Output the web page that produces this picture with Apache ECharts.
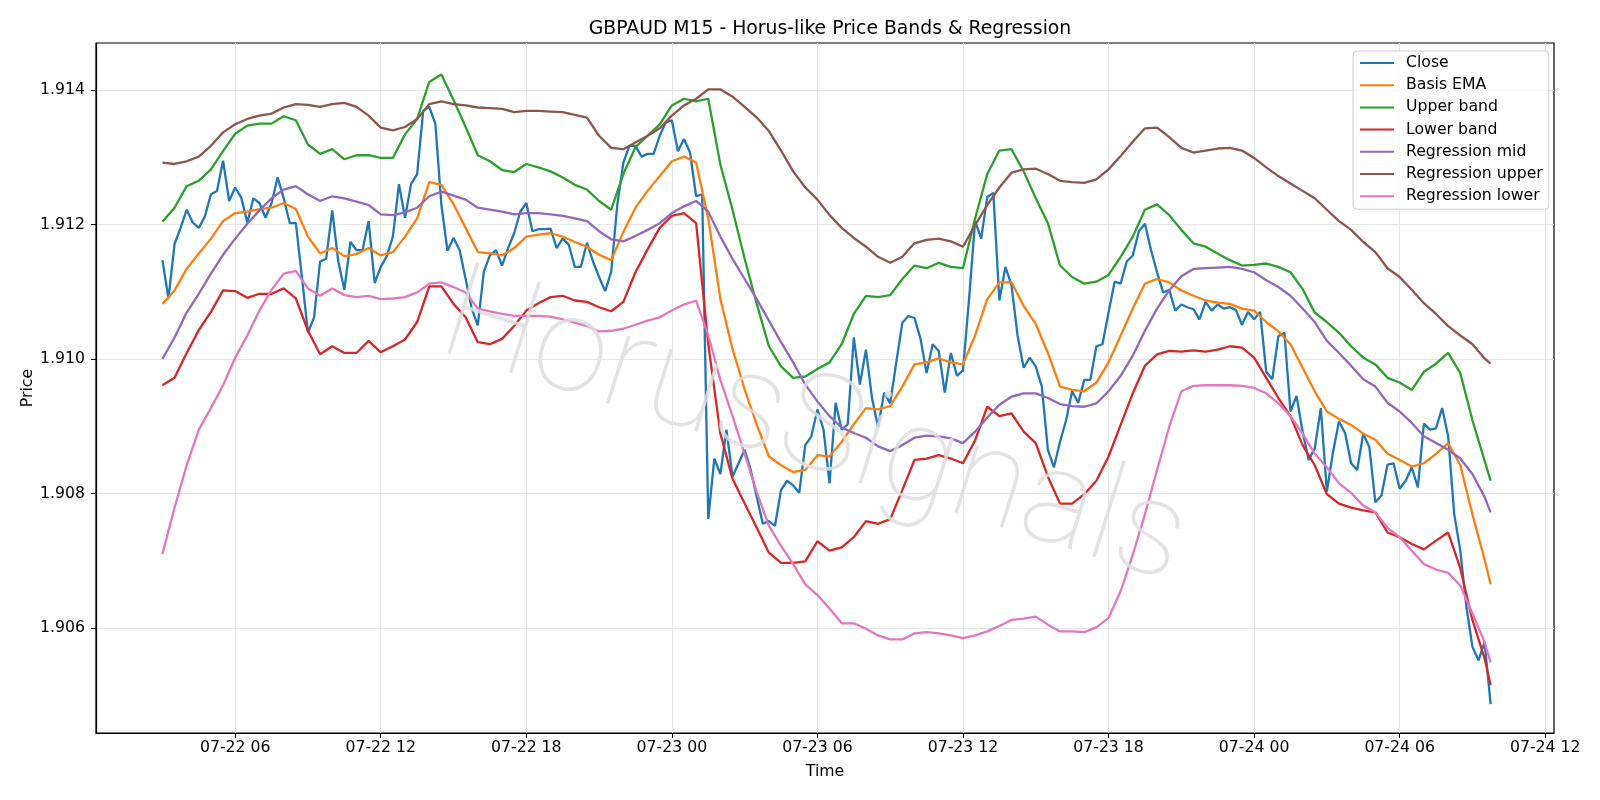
<!DOCTYPE html>
<html>
<head>
<meta charset="utf-8">
<title>GBPAUD M15 - Horus-like Price Bands & Regression</title>
<script src="https://cdn.jsdelivr.net/npm/echarts@6/dist/echarts.min.js"></script>
<style>
    html, body { margin: 0; padding: 0; background: #fff; }
    #chart { width: 1600px; height: 800px; }
</style>
</head>
<body>
<div id="chart"></div>
<script>
// M15 bars, first close at 07-22 03:00
const startTime = Date.UTC(2025, 6, 22, 3, 0);
const step = 15 * 60 * 1000;

const closeVals = [
    1.91147, 1.9109, 1.91171, 1.91195, 1.91222, 1.91203, 1.91195, 1.91212, 1.91245, 1.9125,
    1.91295, 1.91235, 1.91255, 1.9124, 1.91203, 1.91239, 1.91232, 1.9121, 1.91232, 1.9127,
    1.91239, 1.91202, 1.91202, 1.91122, 1.91039, 1.91062, 1.91145, 1.91149, 1.91221, 1.91145,
    1.91103, 1.91174, 1.91162, 1.91162, 1.91205, 1.91113, 1.91137, 1.91153, 1.91182, 1.9126,
    1.9121, 1.9126, 1.91275, 1.91369, 1.91375, 1.9135, 1.91229, 1.91161, 1.9118, 1.91162,
    1.91119, 1.91075, 1.9105, 1.9113, 1.91154, 1.91162, 1.91139, 1.91165, 1.91187, 1.91219,
    1.91232, 1.9119, 1.91193, 1.91193, 1.91194, 1.91165, 1.91179, 1.9117, 1.91137, 1.91137,
    1.91173, 1.91145, 1.91122, 1.91101, 1.9113, 1.91229, 1.91292, 1.91317, 1.91317, 1.91301,
    1.91305, 1.91305, 1.91332, 1.91352, 1.91355, 1.91309, 1.91327, 1.91307, 1.91242, 1.91245,
    1.90762, 1.90852, 1.90829, 1.90895, 1.90825, 1.90845, 1.90865, 1.90835, 1.90795, 1.90755,
    1.90759, 1.90752, 1.90805, 1.90819, 1.90812, 1.90801, 1.90872, 1.90885, 1.90925, 1.90895,
    1.90815, 1.90935, 1.90895, 1.90903, 1.91032, 1.90962, 1.91014, 1.90942, 1.90899, 1.9095,
    1.90934, 1.90995, 1.91054, 1.91064, 1.91061, 1.9103, 1.90979, 1.91022, 1.91012, 1.9095,
    1.91009, 1.90975, 1.90983, 1.91089, 1.91205, 1.91179, 1.91241, 1.91247, 1.91087, 1.91137,
    1.9111, 1.91035, 1.90987, 1.91002, 1.90989, 1.90959, 1.90865, 1.90839, 1.90877, 1.90909,
    1.90952, 1.90935, 1.90969, 1.90969, 1.91019, 1.91022, 1.91069, 1.91115, 1.91112, 1.91145,
    1.91154, 1.9119, 1.91201, 1.91162, 1.91129, 1.91099, 1.91103, 1.91072, 1.91081, 1.91077,
    1.91074, 1.91059, 1.91085, 1.91072, 1.91081, 1.91075, 1.91077, 1.91073, 1.91051, 1.9107,
    1.91059, 1.9107, 1.90981, 1.9097, 1.91034, 1.91039, 1.90922, 1.90945, 1.90892, 1.9085,
    1.90867, 1.90927, 1.90803, 1.90861, 1.90907, 1.9089, 1.90845, 1.90835, 1.90889, 1.90869,
    1.90787, 1.90797, 1.90843, 1.90845, 1.90807, 1.90819, 1.90839, 1.90809, 1.90904, 1.90895,
    1.90897, 1.90927, 1.90885, 1.90769, 1.90715, 1.90632, 1.90572, 1.90552, 1.90579, 1.90487
];

// band / regression lines read every 2nd bar (0, 2, ... 218) plus the last bar 219
const basisEma = [
    1.91082, 1.91102, 1.91134, 1.91157, 1.91179, 1.91205, 1.91217, 1.91219, 1.91223, 1.91225,
    1.91232, 1.91223, 1.91182, 1.91157, 1.91165, 1.91153, 1.91156, 1.91165, 1.91154, 1.91159,
    1.91182, 1.91209, 1.91263, 1.91259, 1.9123, 1.91195, 1.91159, 1.91157, 1.91154, 1.91165,
    1.91182, 1.91185, 1.91187, 1.91182, 1.91174, 1.91167, 1.91155, 1.91147, 1.91189, 1.91225,
    1.9125, 1.91272, 1.91294, 1.91301, 1.91292, 1.91209, 1.91089, 1.91015, 1.90955, 1.90902,
    1.90855, 1.90842, 1.90832, 1.90835, 1.90857, 1.90855, 1.90877, 1.90903, 1.90927, 1.90925,
    1.9093, 1.90959, 1.90992, 1.90995, 1.91001, 1.90995, 1.90992, 1.91035, 1.91089, 1.91114,
    1.91114, 1.91079, 1.91052, 1.91009, 1.90959, 1.90954, 1.90952, 1.90965, 1.90995, 1.91035,
    1.91075, 1.91112, 1.91119, 1.91114, 1.91102, 1.91094, 1.91087, 1.91084, 1.91082, 1.91075,
    1.91072, 1.91055, 1.91041, 1.91022, 1.90987, 1.90952, 1.90922, 1.90911, 1.90902, 1.90889,
    1.9088, 1.90859, 1.9085, 1.9084, 1.90845, 1.90859, 1.90875, 1.90842, 1.90769, 1.90702,
    1.90665
];
const upperBand = [
    1.91204, 1.91225, 1.91257, 1.91265, 1.91282, 1.91309, 1.91335, 1.91347, 1.9135, 1.9135,
    1.91361, 1.91355, 1.91319, 1.91305, 1.91312, 1.91297, 1.91303, 1.91303, 1.91299, 1.91299,
    1.91334, 1.91357, 1.91412, 1.91423, 1.91385, 1.91345, 1.91303, 1.91294, 1.91281, 1.91278,
    1.9129, 1.91285, 1.91279, 1.9127, 1.91259, 1.91252, 1.91235, 1.91222, 1.91275, 1.91315,
    1.91332, 1.91349, 1.91377, 1.91387, 1.91383, 1.91387, 1.91289, 1.91222, 1.91149, 1.91082,
    1.91019, 1.90989, 1.90972, 1.90974, 1.90985, 1.90995, 1.91022, 1.91067, 1.91094, 1.91092,
    1.91095, 1.91119, 1.91139, 1.91135, 1.91143, 1.91137, 1.91135, 1.91209, 1.91275, 1.9131,
    1.91312, 1.91279, 1.91239, 1.91202, 1.91139, 1.91122, 1.91112, 1.91115, 1.91125, 1.91152,
    1.91182, 1.91222, 1.9123, 1.91214, 1.91192, 1.91172, 1.91167, 1.91157, 1.91147, 1.91139,
    1.9114, 1.91142, 1.91137, 1.91129, 1.91104, 1.91069, 1.91055, 1.91039, 1.91019, 1.91002,
    1.90992, 1.90972, 1.90965, 1.90954, 1.90981, 1.90993, 1.91009, 1.90979, 1.90909, 1.90849,
    1.90819
];
const lowerBand = [
    1.90961, 1.90972, 1.91009, 1.91043, 1.9107, 1.91102, 1.91101, 1.91091, 1.91097, 1.91097,
    1.91105, 1.9109, 1.91042, 1.91007, 1.91019, 1.91009, 1.91009, 1.91027, 1.9101, 1.91019,
    1.91029, 1.91055, 1.91108, 1.91108, 1.91082, 1.91062, 1.91025, 1.91022, 1.9103, 1.91049,
    1.91072, 1.91083, 1.91092, 1.91094, 1.91087, 1.91085, 1.91077, 1.91071, 1.91085, 1.91129,
    1.91163, 1.91195, 1.91213, 1.91217, 1.91202, 1.91022, 1.90889, 1.90822, 1.90785, 1.90749,
    1.90712, 1.90697, 1.90697, 1.90699, 1.90729, 1.90715, 1.9072, 1.90735, 1.90759, 1.90755,
    1.90762, 1.90805, 1.9085, 1.90852, 1.90857, 1.90852, 1.90845, 1.90879, 1.90929, 1.90915,
    1.90919, 1.90892, 1.90875, 1.90825, 1.90785, 1.90785, 1.90799, 1.90819, 1.90855, 1.90902,
    1.90949, 1.9099, 1.91007, 1.91012, 1.91011, 1.91013, 1.91011, 1.91014, 1.91019, 1.91017,
    1.91002, 1.90972, 1.90942, 1.90915, 1.90872, 1.90842, 1.90799, 1.90785, 1.90779, 1.90775,
    1.90772, 1.90742, 1.90735, 1.90725, 1.90717, 1.9073, 1.90742, 1.90689, 1.90612, 1.90555,
    1.90515
];
const regMid = [
    1.91, 1.91032, 1.91069, 1.91097, 1.91127, 1.91155, 1.91179, 1.91201, 1.91221, 1.91239,
    1.91252, 1.91257, 1.91245, 1.91235, 1.91242, 1.91239, 1.91234, 1.91229, 1.91215, 1.91214,
    1.91218, 1.91225, 1.91242, 1.91249, 1.91243, 1.91237, 1.91225, 1.91222, 1.91219, 1.91215,
    1.91217, 1.91217, 1.91215, 1.91213, 1.91209, 1.91205, 1.9119, 1.91178, 1.91175, 1.91183,
    1.91192, 1.91202, 1.91217, 1.91227, 1.91235, 1.91219, 1.91182, 1.91149, 1.91119, 1.91089,
    1.91057, 1.91025, 1.90995, 1.90962, 1.90937, 1.90915, 1.90898, 1.9089, 1.90883, 1.9087,
    1.90863, 1.90872, 1.90883, 1.90886, 1.90885, 1.90882, 1.90875, 1.90892, 1.90913, 1.90932,
    1.90944, 1.90949, 1.90949, 1.90942, 1.90933, 1.9093, 1.90929, 1.90934, 1.90952, 1.90975,
    1.91005, 1.91042, 1.91075, 1.91102, 1.91123, 1.91134, 1.91135, 1.91136, 1.91137, 1.91134,
    1.91129, 1.91117, 1.91107, 1.91094, 1.91075, 1.91055, 1.91027, 1.91009, 1.9099, 1.9097,
    1.90959, 1.90935, 1.90922, 1.90905, 1.90885, 1.90875, 1.90865, 1.90852, 1.90829, 1.90795,
    1.90772
];
const regUpper = [
    1.91292, 1.9129, 1.91294, 1.91301, 1.91317, 1.91337, 1.91349, 1.91357, 1.91362, 1.91365,
    1.91374, 1.91379, 1.91378, 1.91375, 1.91379, 1.91381, 1.91375, 1.91362, 1.91344, 1.9134,
    1.91345, 1.91357, 1.91379, 1.91383, 1.91379, 1.91377, 1.91374, 1.91373, 1.91372, 1.91367,
    1.91369, 1.91369, 1.91368, 1.91367, 1.91363, 1.91359, 1.91332, 1.91314, 1.91312, 1.91322,
    1.91332, 1.91343, 1.91362, 1.91377, 1.91387, 1.91401, 1.91401, 1.9139, 1.91375, 1.91359,
    1.91339, 1.9131, 1.91279, 1.91255, 1.91237, 1.91214, 1.91195, 1.9118, 1.91167, 1.91152,
    1.91143, 1.91152, 1.91172, 1.91177, 1.91179, 1.91175, 1.91167, 1.91199, 1.91229, 1.91255,
    1.91277, 1.91282, 1.91283, 1.91275, 1.91265, 1.91263, 1.91262, 1.91267, 1.91282, 1.91302,
    1.91323, 1.91343, 1.91344, 1.9133, 1.91314, 1.91307, 1.9131, 1.91313, 1.91314, 1.9131,
    1.91299, 1.91285, 1.91272, 1.91261, 1.9125, 1.91239, 1.91222, 1.91205, 1.91192, 1.91174,
    1.91159, 1.91135, 1.91122, 1.91103, 1.91083, 1.91067, 1.91049, 1.91035, 1.91022, 1.91001,
    1.90993
];
const regLower = [
    1.9071, 1.90779, 1.90842, 1.90895, 1.90927, 1.90961, 1.91002, 1.91035, 1.91072, 1.91103,
    1.91127, 1.91131, 1.91105, 1.91094, 1.91105, 1.91095, 1.91092, 1.91094, 1.91089, 1.9109,
    1.91092, 1.91099, 1.91112, 1.91114, 1.91107, 1.91099, 1.91075, 1.91071, 1.91067, 1.91064,
    1.91064, 1.91064, 1.91063, 1.91059, 1.91054, 1.91049, 1.91041, 1.91042, 1.91045, 1.91051,
    1.91057, 1.91062, 1.91072, 1.91081, 1.91087, 1.91035, 1.90969, 1.90915, 1.90859, 1.90802,
    1.90752, 1.90722, 1.90695, 1.90665, 1.90649, 1.90629, 1.90607, 1.90607, 1.90599, 1.90589,
    1.90583, 1.90583, 1.90592, 1.90594, 1.90592, 1.90589, 1.90585, 1.90589, 1.90595, 1.90603,
    1.90612, 1.90614, 1.90617, 1.90605, 1.90595, 1.90595, 1.90594, 1.90601, 1.90615, 1.90655,
    1.90709, 1.90769, 1.90835, 1.90899, 1.90952, 1.9096, 1.90961, 1.90961, 1.90961, 1.9096,
    1.90957, 1.90949, 1.90934, 1.90915, 1.90889, 1.90859, 1.90839, 1.90815, 1.90801, 1.90782,
    1.90772, 1.90749, 1.90735, 1.90715, 1.90695, 1.90687, 1.90682, 1.90663, 1.90622, 1.90579,
    1.90549
];

const xTickLabels = ['07-22 06', '07-22 12', '07-22 18', '07-23 00', '07-23 06',
                     '07-23 12', '07-23 18', '07-24 00', '07-24 06', '07-24 12'];
const yTickValues = [1.906, 1.908, 1.910, 1.912, 1.914];

const seriesNames = ['Close', 'Basis EMA', 'Upper band', 'Lower band',
                     'Regression mid', 'Regression upper', 'Regression lower'];
const seriesColors = ['#1f77b4', '#ff7f0e', '#2ca02c', '#d62728', '#9467bd', '#8c564b', '#e377c2'];

const sampleIdx = [];
for (let i = 0; i <= 218; i += 2) sampleIdx.push(i);
sampleIdx.push(219);

const xTickTimes = xTickLabels.map(s => {
    const day = parseInt(s.slice(3, 5), 10);
    const hour = parseInt(s.slice(6, 8), 10);
    return Date.UTC(2025, 6, day, hour, 0);
});

const closeData = closeVals.map((v, i) => [startTime + i * step, v]);
const toPairs = arr => arr.map((v, k) => [startTime + sampleIdx[k] * step, v]);
const lineData = [closeData, toPairs(basisEma), toPairs(upperBand), toPairs(lowerBand),
                  toPairs(regMid), toPairs(regUpper), toPairs(regLower)];

const font = 'DejaVu Sans';
const fs = 15.7;
let chart = echarts.init(document.getElementById('chart'));
const option = {
    animation: false,
    backgroundColor: '#fff',
    title: {
        text: 'GBPAUD M15 - Horus-like Price Bands & Regression',
        left: 825, top: 15, textAlign: 'center',
        textStyle: { fontFamily: font, fontSize: 18.8, fontWeight: 'normal', color: '#000' }
    },
    legend: {
        data: seriesNames,
        orient: 'vertical',
        left: 1353, top: 51,
        padding: [4, 6, 5, 6],
        itemGap: 6.2,
        itemWidth: 34, itemHeight: 14,
        itemStyle: { opacity: 0 },
        backgroundColor: 'rgba(255,255,255,0.8)',
        borderColor: '#cccccc', borderWidth: 1, borderRadius: 4,
        textStyle: { fontFamily: font, fontSize: fs, color: '#000', padding: [0, 0, 0, 7] }
    },
    grid: {
        left: 96, right: 46, top: 43, bottom: 67,
        show: true, borderColor: '#000', borderWidth: 1.2, backgroundColor: 'transparent'
    },
    xAxis: {
        type: 'value',
        min: startTime - 10.95 * step,
        max: startTime + 229.45 * step,
        name: 'Time', nameLocation: 'middle', nameGap: 31,
        nameTextStyle: { fontFamily: font, fontSize: fs, color: '#000' },
        axisLine: { show: true, lineStyle: { color: '#000', width: 1.2 } },
        axisTick: { show: true, length: 5, lineStyle: { color: '#000' }, customValues: xTickTimes },
        axisLabel: {
            customValues: xTickTimes, margin: 7,
            fontFamily: font, fontSize: fs, color: '#000',
            formatter: v => {
                const k = xTickTimes.findIndex(t => Math.abs(t - v) < 1000);
                return k >= 0 ? xTickLabels[k] : '';
            }
        },
        splitLine: { show: true, lineStyle: { color: '#e6e6e6', width: 1 } }
    },
    yAxis: {
        type: 'value',
        min: 1.904439, max: 1.914699,
        name: 'Price', nameLocation: 'middle', nameGap: 60, nameRotate: 90,
        nameMoveOverlap: false,
        nameTextStyle: { fontFamily: font, fontSize: fs, color: '#000' },
        axisLine: { show: true, lineStyle: { color: '#000', width: 1.2 } },
        axisTick: { show: true, length: 5, lineStyle: { color: '#000' }, customValues: yTickValues },
        axisLabel: {
            customValues: yTickValues, margin: 11,
            fontFamily: font, fontSize: fs, color: '#000',
            formatter: v => v.toFixed(3)
        },
        splitLine: { show: true, lineStyle: { color: '#e6e6e6', width: 1 } }
    },
    series: seriesNames.map((name, k) => ({
        name: name,
        type: 'line',
        data: lineData[k],
        symbol: 'none',
        color: seriesColors[k],
        lineStyle: { width: 2.3, color: seriesColors[k] },
        z: 2 + k
    })),
    graphic: [{
        type: 'text',
        x: 813, y: 433,
        rotation: -17.5 * Math.PI / 180,
        z: 100,
        silent: true,
        style: {
            text: 'HorusSignals',
            font: '100 134px Roboto, Lato, "DejaVu Sans"',
            textAlign: 'center',
            textVerticalAlign: 'middle',
            fill: 'rgba(222,222,222,0.85)',
            shadowColor: 'rgba(0,0,0,0.4)',
            shadowOffsetX: 3, shadowOffsetY: 3, shadowBlur: 1.5
        }
    }]
};
chart.setOption(option);
</script>
</body>
</html>
